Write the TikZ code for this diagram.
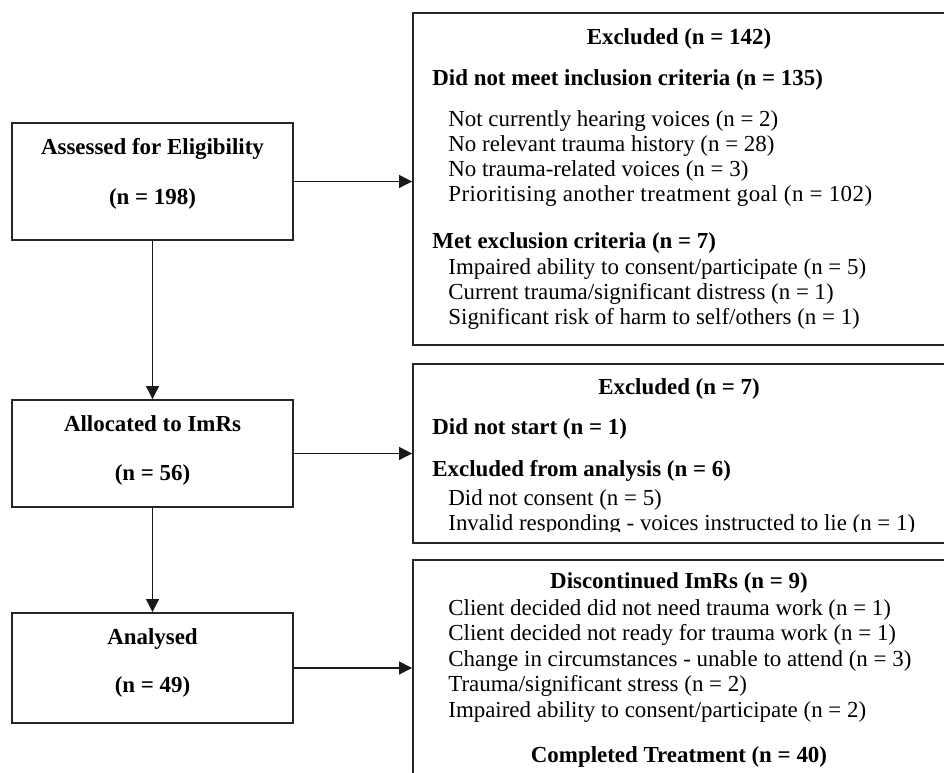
\documentclass[tikz,border=0pt]{standalone}
\usepackage{fontspec}
\setmainfont{Liberation Serif}
\usetikzlibrary{arrows.meta,fit}

\begin{document}
\begin{tikzpicture}[x=0.5235pt, y=-0.5235pt,
    every node/.style={font=\fontsize{12}{14}\selectfont, inner sep=0pt},
    box/.style={draw=black!85, line width=1pt, inner sep=0pt},
    arr/.style={draw=black!90, line width=0.6pt, -{Triangle[length=6.8pt, width=6.8pt]}},
    head/.style={anchor=base, font=\fontsize{12}{14}\selectfont\bfseries},
    subhead/.style={anchor=base west, font=\fontsize{12}{14}\selectfont\bfseries},
    entry/.style={anchor=base west}]
    \useasboundingbox (0,0) rectangle (944,773);
    \clip (0,0) rectangle (944,773);

    % Columna izquierda
    \node[box, fit={(12,123) (293,240)}] (assess) {};
    \node[box, fit={(12,400) (293,507)}] (alloc) {};
    \node[box, fit={(12,613) (293,723)}] (analysed) {};
    \node[head] (assessT) at (152.5,155) {Assessed for Eligibility};
    \node[head] (assessN) at (152.5,205) {(n = 198)};
    \node[head] (allocT) at (152.5,432) {Allocated to ImRs};
    \node[head] (allocN) at (152.5,481) {(n = 56)};
    \node[head] (analysedT) at (152.5,645) {Analysed};
    \node[head] (analysedN) at (152.5,693) {(n = 49)};

    % Columna derecha
    \node[box, fit={(413,13) (946,345)}] (exclA) {};
    \node[box, fit={(413,364) (946,543)}] (exclB) {};
    \node[box, fit={(413,560) (946,778)}] (disc) {};

    % Excluidos antes de asignar
    \node[head] (exclAT) at (679,45) {Excluded (n = 142)};
    \node[subhead] (incl) at (432,86) {Did not meet inclusion criteria (n = 135)};
    \foreach \y/\txt [count=\i] in {
      127/Not currently hearing voices (n = 2),
      152/No relevant trauma history (n = 28),
      177/No trauma-related voices (n = 3),
      202/{\addfontfeature{LetterSpace=2}Prioritising another treatment goal (n = 102)}
    } {
      \node[entry] (inc\i) at (448,\y) {\txt};
    }
    \node[subhead] (excl) at (432,249) {Met exclusion criteria (n = 7)};
    \foreach \y/\txt [count=\i] in {
      275/{Impaired ability to consent/participate (n = 5)},
      300/{Current trauma/significant distress (n = 1)},
      325/{Significant risk of harm to self/others (n = 1)}
    } {
      \node[entry] (exc\i) at (448,\y) {\txt};
    }

    % Excluidos tras asignar
    \node[head] (exclBT) at (679,395) {Excluded (n = 7)};
    \node[subhead] (nostart) at (432,435) {Did not start (n = 1)};
    \node[subhead] (noanal) at (432,477) {Excluded from analysis (n = 6)};
    \node[entry] (nocons) at (448,506) {Did not consent (n = 5)};
    \begin{scope}
      \clip (413,364) rectangle (946,532);
      \node[entry] (invalid) at (448,531) {Invalid responding - voices instructed to lie (n = 1)};
    \end{scope}

    % Abandonos y completados
    \node[head] (discT) at (679,589) {Discontinued ImRs (n = 9)};
    \foreach \y/\txt [count=\i] in {
      616/Client decided did not need trauma work (n = 1),
      641/Client decided not ready for trauma work (n = 1),
      667/Change in circumstances - unable to attend (n = 3),
      692/{Trauma/significant stress (n = 2)},
      718/{Impaired ability to consent/participate (n = 2)}
    } {
      \node[entry] (dis\i) at (448,\y) {\txt};
    }
    \node[head] (done) at (679,763) {Completed Treatment (n = 40)};

    % Flechas
    \draw[arr] (assess) -- (alloc);
    \draw[arr] (alloc) -- (analysed);
    \draw[arr] (assess.east) -- (assess.east -| exclA.west);
    \draw[arr] (alloc.east) -- (alloc.east -| exclB.west);
    \draw[arr] (analysed.east) -- (analysed.east -| disc.west);
  \end{tikzpicture}
\end{document}
